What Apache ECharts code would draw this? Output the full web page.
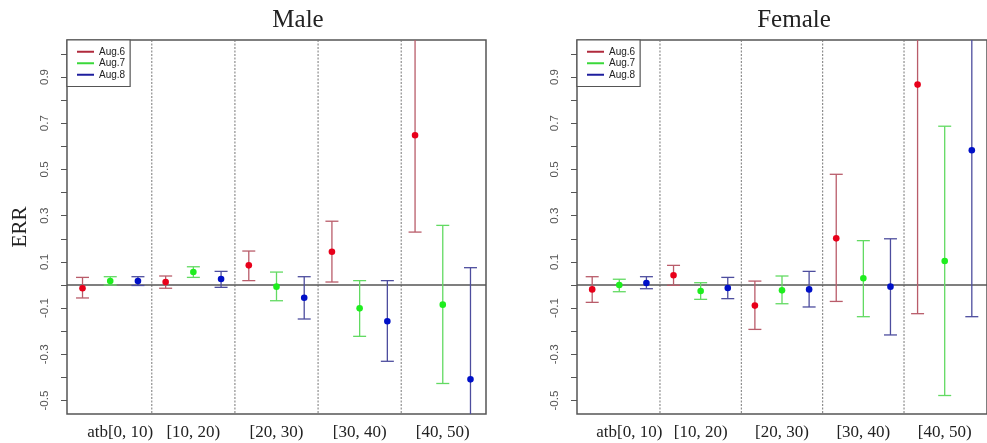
<!DOCTYPE html>
<html>
<head>
<meta charset="utf-8">
<script src="https://cdn.jsdelivr.net/npm/echarts@6/dist/echarts.min.js"></script>
<style>
  html, body { margin: 0; padding: 0; background: #fff; }
  #chart { width: 987px; height: 443px; }
</style>
</head>
<body>
<div id="chart"></div>
<script>
const groups = ['atb[0, 10)', '[10, 20)', '[20, 30)', '[30, 40)', '[40, 50)'];
const seriesNames = ['Aug.6', 'Aug.7', 'Aug.8'];
const panelTitles = ['Male', 'Female'];
const yTicks = [-0.5, -0.4, -0.3, -0.2, -0.1, 0, 0.1, 0.2, 0.3, 0.4, 0.5, 0.6, 0.7, 0.8, 0.9, 1.0];
const yLabels = [-0.5, -0.3, -0.1, 0.1, 0.3, 0.5, 0.7, 0.9];

// Male: estimate, lower and upper bounds
const maleAug6 = [-0.014, 0.013, 0.085, 0.144, 0.648];
const maleAug6Lo = [-0.056, -0.014, 0.019, 0.013, 0.229];
const maleAug6Hi = [0.033, 0.039, 0.147, 0.276, 1.067];
const maleAug7 = [0.017, 0.056, -0.007, -0.101, -0.085];
const maleAug7Lo = [0.0, 0.033, -0.068, -0.222, -0.426];
const maleAug7Hi = [0.036, 0.079, 0.056, 0.019, 0.258];
const maleAug8 = [0.017, 0.026, -0.055, -0.157, -0.408];
const maleAug8Lo = [-0.002, -0.01, -0.147, -0.330, -0.891];
const maleAug8Hi = [0.036, 0.059, 0.036, 0.019, 0.075];

// Female
const femaleAug6 = [-0.019, 0.042, -0.089, 0.202, 0.867];
const femaleAug6Lo = [-0.075, -0.001, -0.192, -0.071, -0.124];
const femaleAug6Hi = [0.036, 0.085, 0.017, 0.479, 1.858];
const femaleAug7 = [0.0, -0.026, -0.023, 0.029, 0.104];
const femaleAug7Lo = [-0.029, -0.062, -0.081, -0.137, -0.478];
const femaleAug7Hi = [0.025, 0.010, 0.039, 0.192, 0.687];
const femaleAug8 = [0.009, -0.013, -0.019, -0.007, 0.583];
const femaleAug8Lo = [-0.016, -0.059, -0.095, -0.216, -0.137];
const femaleAug8Hi = [0.036, 0.033, 0.059, 0.200, 1.303];

const panels = [
  [[maleAug6, maleAug6Lo, maleAug6Hi], [maleAug7, maleAug7Lo, maleAug7Hi], [maleAug8, maleAug8Lo, maleAug8Hi]],
  [[femaleAug6, femaleAug6Lo, femaleAug6Hi], [femaleAug7, femaleAug7Lo, femaleAug7Hi], [femaleAug8, femaleAug8Lo, femaleAug8Hi]]
];

const legendColors = ['#b02a3c', '#3ad83a', '#1e1e9e'];
const barColors = ['#b95c6a', '#62da62', '#4d4d9e'];
const dotColors = ['#e8001a', '#1eee1e', '#0010c8'];

const serif = 'Liberation Serif';
const sans = 'Liberation Sans';
const gridLefts = [67, 577];

function clampY(y, cs) {
  return Math.max(cs.y, Math.min(cs.y + cs.height, y));
}

function makeBarRender(k) {
  return function(params, api) {
    const cs = params.coordSys;
    const x = api.coord([api.value(0), 0])[0];
    const yEst = api.coord([0, api.value(1)])[1];
    const yLo = api.coord([0, api.value(2)])[1];
    const yHi = api.coord([0, api.value(3)])[1];
    const barStyle = { stroke: barColors[k], lineWidth: 1.3 };
    const children = [{
      type: 'line',
      shape: { x1: x, y1: clampY(yHi, cs), x2: x, y2: clampY(yLo, cs) },
      style: barStyle
    }];
    if (yHi >= cs.y) {
      children.push({ type: 'line', shape: { x1: x - 6.5, y1: yHi, x2: x + 6.5, y2: yHi }, style: barStyle });
    }
    if (yLo <= cs.y + cs.height) {
      children.push({ type: 'line', shape: { x1: x - 6.5, y1: yLo, x2: x + 6.5, y2: yLo }, style: barStyle });
    }
    if (yEst >= cs.y && yEst <= cs.y + cs.height) {
      children.push({ type: 'circle', shape: { cx: x, cy: yEst, r: 3.3 }, style: { fill: dotColors[k] } });
    }
    return { type: 'group', children: children };
  };
}

// dotted dividers between groups and the solid zero line
function renderFrame(params, api) {
  const cs = params.coordSys;
  const kind = api.value(0);
  if (kind === 0) {
    const x = api.coord([api.value(1), 0])[0];
    return {
      type: 'line',
      shape: { x1: x, y1: cs.y, x2: x, y2: cs.y + cs.height },
      style: { stroke: '#777', lineWidth: 1, lineDash: [2, 1.5] }
    };
  }
  const y = api.coord([0, api.value(1)])[1];
  return {
    type: 'line',
    shape: { x1: cs.x, y1: y, x2: cs.x + cs.width, y2: y },
    style: { stroke: '#555', lineWidth: 1.5 }
  };
}

const frameData = groups.slice(1).map((g, i) => [0, 3 * i + 3.5]).concat([[1, 0]]);

const series = [];
panels.forEach((panel, p) => {
  series.push({
    type: 'custom',
    xAxisIndex: p,
    yAxisIndex: p,
    silent: true,
    z: 1,
    renderItem: renderFrame,
    data: frameData
  });
  panel.forEach((vals, k) => {
    series.push({
      type: 'custom',
      name: seriesNames[k],
      xAxisIndex: p,
      yAxisIndex: p,
      z: 3,
      itemStyle: { color: legendColors[k] },
      renderItem: makeBarRender(k),
      encode: { x: 0, y: [1, 2, 3] },
      data: groups.map((g, i) => [3 * i + k + 1, vals[0][i], vals[1][i], vals[2][i]])
    });
  });
});

const chart = echarts.init(document.getElementById('chart'));
chart.setOption({
  animation: false,
  backgroundColor: '#fff',
  title: [
    { text: panelTitles[0], left: 293, top: 3, textAlign: 'center',
      textStyle: { fontFamily: serif, fontSize: 25, fontWeight: 'normal', color: '#222' } },
    { text: panelTitles[1], left: 789, top: 3, textAlign: 'center',
      textStyle: { fontFamily: serif, fontSize: 25, fontWeight: 'normal', color: '#222' } }
  ],
  legend: gridLefts.map(l => ({
    data: seriesNames,
    orient: 'vertical',
    left: l,
    top: 40,
    icon: 'rect',
    itemWidth: 17,
    itemHeight: 2,
    itemGap: 0,
    itemTextGap: 7,
    padding: [6, 5, 6, 10],
    backgroundColor: '#fff',
    borderColor: '#555',
    borderWidth: 1.2,
    borderRadius: 0,
    selectedMode: false,
    textStyle: { fontFamily: sans, fontSize: 10, color: '#222', lineHeight: 11.5 }
  })),
  grid: gridLefts.map(l => ({
    left: l,
    top: 40,
    width: 419,
    height: 374,
    show: true,
    borderColor: '#555',
    borderWidth: 1.5,
    backgroundColor: 'transparent'
  })),
  xAxis: gridLefts.map((l, p) => ({
    type: 'value',
    gridIndex: p,
    min: 0.44,
    max: 15.56,
    axisLine: { show: false },
    axisTick: { show: false },
    splitLine: { show: false },
    axisLabel: {
      customValues: groups.map((g, i) => 3 * i + 2),
      margin: 10,
      fontFamily: serif,
      fontSize: 17,
      color: '#222',
      formatter: function(v) {
        const i = Math.round((v - 2) / 3);
        return i === 0 ? '{a|' + groups[i] + '}' : groups[i];
      },
      rich: { a: { fontFamily: serif, fontSize: 17, color: '#222', padding: [0, 0, 0, 20] } }
    }
  })),
  yAxis: gridLefts.map((l, p) => ({
    type: 'value',
    gridIndex: p,
    min: -0.558,
    max: 1.06,
    name: p === 0 ? 'ERR' : '',
    nameLocation: 'middle',
    nameRotate: 90,
    nameGap: 36,
    nameTextStyle: { fontFamily: serif, fontSize: 21, color: '#222' },
    axisLine: { show: false },
    splitLine: { show: false },
    axisTick: {
      show: true,
      customValues: yTicks,
      length: 6,
      lineStyle: { color: '#555', width: 1 }
    },
    axisLabel: {
      customValues: yLabels,
      rotate: 90,
      margin: 16,
      fontFamily: sans,
      fontSize: 11.5,
      color: '#555',
      formatter: v => v.toFixed(1)
    }
  })),
  series: series
});
</script>
</body>
</html>
